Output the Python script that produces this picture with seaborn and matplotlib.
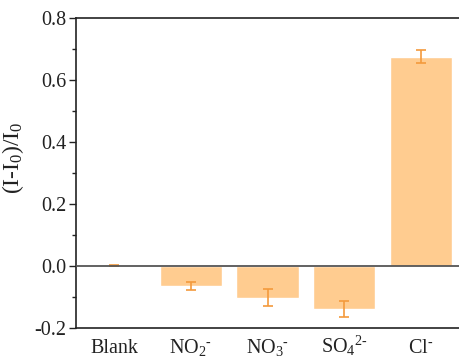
import matplotlib
matplotlib.use("Agg")
import matplotlib.pyplot as plt
import seaborn as sns
import pandas as pd
import numpy as np
from matplotlib.ticker import MultipleLocator

categories = ["Blank", r"NO$_2{}^{\text{-}}$", r"NO$_3{}^{\text{-}}$",
              r"SO$_4{}^{2\text{-}}$", r"Cl$^{\text{-}}$"]
values = [0.001, -0.065, -0.102, -0.139, 0.675]
errors = [0.002, 0.013, 0.028, 0.026, 0.021]

sns.set_theme(style="white")
plt.rcParams["font.family"] = ["Liberation Serif", "DejaVu Serif"]
plt.rcParams["mathtext.fontset"] = "custom"
plt.rcParams["mathtext.rm"] = "Liberation Serif"
plt.rcParams["mathtext.it"] = "Liberation Serif:italic"
plt.rcParams["mathtext.default"] = "regular"

df = pd.DataFrame({"cat": categories, "val": values})

fig = plt.figure(figsize=(4.59, 3.58), dpi=100)
ax = fig.add_axes([76/459, 1-328/358, 1-76/459, (328-18)/358])

sns.barplot(data=df, x="cat", y="val", color="#FFCC90", saturation=1,
            width=0.81, errorbar=None, ax=ax, zorder=2)
ax.errorbar(np.arange(len(categories)), values, yerr=errors, fmt="none",
            ecolor="#F39A3C", elinewidth=1.2, capsize=3.5, capthick=1.2, zorder=3)
ax.axhline(0, color="#555555", lw=1.3, zorder=4)

ax.set_xlim(-0.5, 4.5)
ax.set_ylim(-0.2, 0.8)
ax.yaxis.set_minor_locator(MultipleLocator(0.1))
ax.set_yticks(np.arange(-0.2, 0.81, 0.2))
ax.set_yticklabels([f"{v:.1f}" for v in np.arange(-0.2, 0.81, 0.2)])
ax.tick_params(axis="y", which="major", direction="out", length=5, width=1,
               left=True, labelsize=14.5, colors="#222222", pad=2)
ax.tick_params(axis="y", which="minor", direction="out", length=3, width=1, left=True,
               colors="#222222")
ax.tick_params(axis="x", length=0, labelsize=14.5, pad=18, colors="#222222")
for lab in ax.get_xticklabels():
    lab.set_verticalalignment("baseline")

ax.set_xlabel("")
ax.set_ylabel("(I-I$_0$)/I$_0$", fontsize=17, color="#222222")
ax.yaxis.set_label_coords(-0.13, 0.55)

for s in ["left", "bottom", "top"]:
    ax.spines[s].set_color("#222222")
    ax.spines[s].set_linewidth(1.2)
ax.spines["right"].set_visible(False)

fig.savefig("out.png", dpi=100)
